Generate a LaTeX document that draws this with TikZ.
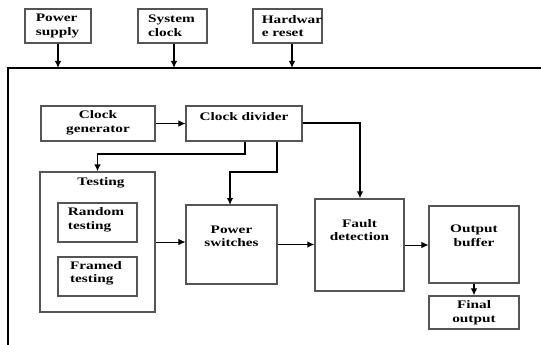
\documentclass[tikz,border=0pt]{standalone}
\usepackage{fontspec}
\setmainfont{Liberation Serif}[FakeStretch=1.33]
\usetikzlibrary{arrows.meta}
\definecolor{boxgray}{HTML}{555555}
\begin{document}
\begin{tikzpicture}[x=1pt,y=-1pt,
  blk/.style={draw=boxgray,line width=1.1pt,inner sep=0pt},
  txt/.style={font=\bfseries\fontsize{11.5}{13.5}\selectfont,align=left,inner sep=0pt},
  ctxt/.style={txt,align=center},
  link/.style={line width=1.6pt,-{Latex[length=7pt,width=6.5pt]}},
  lite/.style={line width=0.9pt,-{Latex[length=7pt,width=6.5pt]}}]
\useasboundingbox (0,0) rectangle (541,345);

% outer frame (open on right and bottom)
\coordinate (fbl) at (8,346);
\coordinate (ftl) at (8,68);
\coordinate (ftr) at (542,68);
\draw[line width=1.2pt] (fbl) -- (ftl) -- (ftr);

% external inputs
\node[blk,minimum width=66pt,minimum height=34pt] (pws) at (58,26) {};
\node[blk,minimum width=69pt,minimum height=34pt] (sck) at (172.5,26) {};
\node[blk,minimum width=69pt,minimum height=34pt] (hrs) at (287.5,26) {};
\node[txt] (pwst) at (57.5,26) {Power\\supply};
\node[txt] (sckt) at (171.5,26) {System\\clock};
\node[txt] (hrst) at (292,26) {Hardwar\\e reset};
\coordinate (f1) at (58,68);
\coordinate (f2) at (174,68);
\coordinate (f3) at (292,68);
\draw[link] (pws.south -| f1) -- (f1);
\draw[link] (sck.south -| f2) -- (f2);
\draw[link] (hrs.south -| f3) -- (f3);

% clock path
\node[blk,minimum width=114pt,minimum height=35pt] (cg) at (98,123.5) {};
\node[blk,minimum width=116pt,minimum height=35pt] (cd) at (244,123.5) {};
\node[ctxt] (cgt) at (98,123) {Clock\\generator};
\node[ctxt] (cdt) at (244,117) {Clock divider};

% testing block
\node[blk,minimum width=115pt,minimum height=140pt] (tst) at (97.5,242) {};
\node[ctxt] (tstt) at (101,183) {Testing};
\node[blk,minimum width=79pt,minimum height=39pt] (rnd) at (97.5,222.5) {};
\node[blk,minimum width=79pt,minimum height=39pt] (frm) at (97.5,276.5) {};
\node[txt] (rndt) at (96,220) {Random\\testing};
\node[txt] (frmt) at (96,273.5) {Framed\\testing};

% main chain
\node[blk,minimum width=91pt,minimum height=79pt] (psw) at (231.5,244.5) {};
\node[blk,minimum width=89pt,minimum height=92pt] (fd) at (359.5,245) {};
\node[blk,minimum width=90pt,minimum height=77pt] (ob) at (474,244.5) {};
\node[blk,minimum width=90pt,minimum height=33pt] (fo) at (474,312.5) {};
\node[ctxt] (pswt) at (231.5,236.5) {Power\\switches};
\node[ctxt] (fdt) at (359.5,230) {Fault\\detection};
\node[ctxt] (obt) at (474,236) {Output\\buffer};
\node[ctxt] (fot) at (474,312.5) {Final\\output};

% connectors
\draw[lite] (cg.east) -- (cg.east -| cd.west);
\coordinate (j0) at (360,123);
\draw[link] (cd.east |- j0) -- (j0) -- (fd.north -| j0);
\coordinate (j1) at (245,154);
\draw[link] (cd.south -| j1) -- (j1) -| (tst.north);
\coordinate (j2) at (277,172);
\coordinate (j3) at (230,205);
\draw[link] (cd.south -| j2) -- (j2) -| (j3);
\draw[lite] (tst.east) -- (tst.east -| psw.west);
\draw[link] (psw.east) -- (psw.east -| fd.west);
\draw[lite] (fd.east) -- (fd.east -| ob.west);
\draw[link] (ob.south) -- (fo.north);
\end{tikzpicture}
\end{document}
